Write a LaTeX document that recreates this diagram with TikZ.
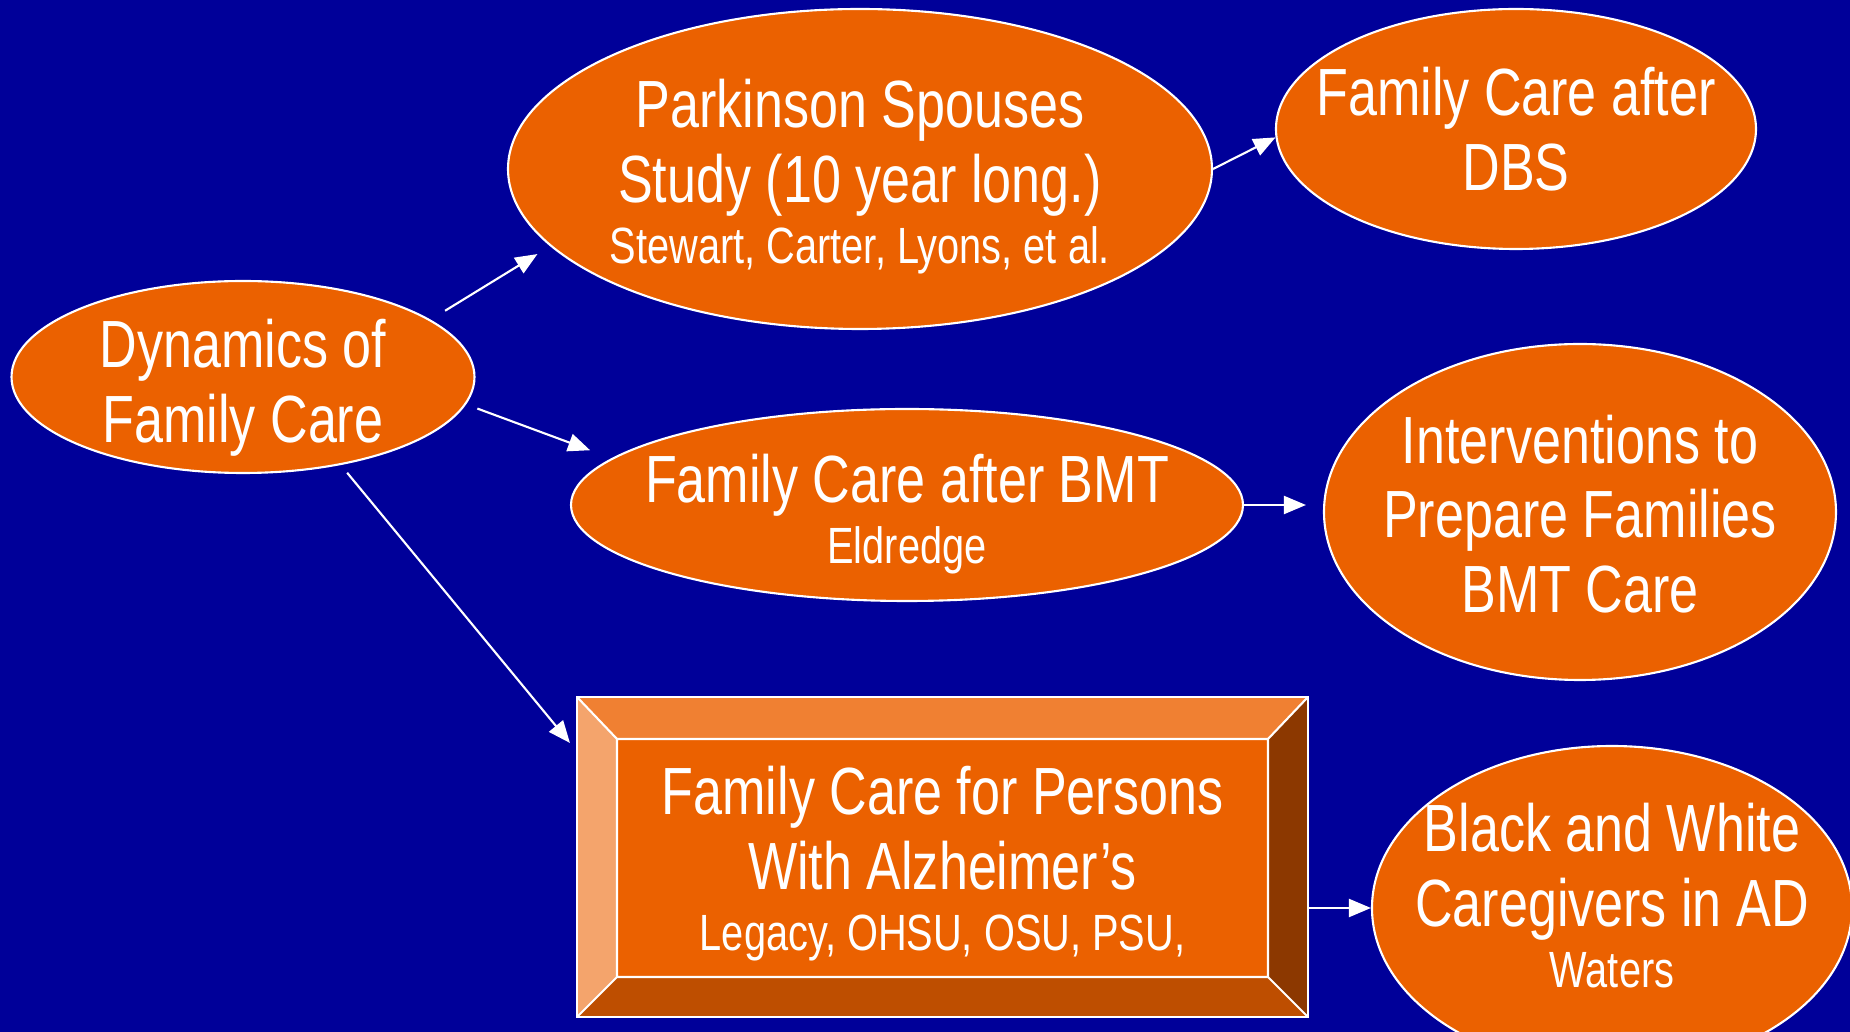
\documentclass[tikz,border=0pt]{standalone}
\usepackage{fontspec}
\setmainfont[FakeStretch=0.78]{Liberation Sans}
\usetikzlibrary{shapes.geometric}
\usetikzlibrary{arrows.meta}
\definecolor{bgblue}{RGB}{0,0,153}
\definecolor{careorange}{RGB}{235,97,0}
\definecolor{bevtop}{RGB}{240,128,50}
\definecolor{bevleft}{RGB}{244,164,108}
\definecolor{bevright}{RGB}{140,56,0}
\definecolor{bevbottom}{RGB}{190,78,0}
\newcommand\namesfont{\fontsize{14.5}{21.3}\selectfont}
\tikzset{
  blob/.style={ellipse,draw=white,line width=0.6pt,fill=careorange,inner sep=0pt},
  blobtext/.style={text=white,align=center,inner sep=0pt,font=\fontsize{19}{21.3}\selectfont},
  link/.style={draw=white,line width=0.6pt,-{Triangle[length=2.2mm,width=1.8mm]}},
  alzbox/.style={rectangle,draw=white,line width=0.6pt,fill=careorange,inner sep=0pt,
    path picture={
      \path (path picture bounding box.north west) coordinate (nw)
            (path picture bounding box.north east) coordinate (ne)
            (path picture bounding box.south east) coordinate (se)
            (path picture bounding box.south west) coordinate (sw)
            ([shift={(4mm,-4.2mm)}]nw) coordinate (inw)
            ([shift={(-4mm,-4.2mm)}]ne) coordinate (ine)
            ([shift={(-4mm,4mm)}]se) coordinate (ise)
            ([shift={(4mm,4mm)}]sw) coordinate (isw);
      \fill[bevtop] (nw) -- (ne) -- (ine) -- (inw) -- cycle;
      \fill[bevright] (ne) -- (se) -- (ise) -- (ine) -- cycle;
      \fill[bevbottom] (se) -- (sw) -- (isw) -- (ise) -- cycle;
      \fill[bevleft] (sw) -- (nw) -- (inw) -- (isw) -- cycle;
      \draw[white,line width=0.6pt] (inw) rectangle (ise)
        (nw) -- (inw) (ne) -- (ine) (se) -- (ise) (sw) -- (isw);
    }},
}

\begin{document}
\begin{tikzpicture}[x=0.1mm,y=0.1mm]
\useasboundingbox (0,0) rectangle (1850,1032);
\fill[bgblue] (0,0) rectangle (1850,1032);
\clip (0,0) rectangle (1850,1032);

\node[blob,minimum width=46.3mm,minimum height=19.2mm] (dyn) at (243,655) {};
\node[blobtext,yshift=-1.1mm] (dyn-txt) at (dyn) {Dynamics of\\ Family Care};
\node[blob,minimum width=70.4mm,minimum height=32mm] (park) at (860,863) {};
\node[blobtext,yshift=-0.8mm] (park-txt) at (park)
  {Parkinson Spouses\\ Study (10 year long.)\\[-3.9pt] \namesfont Stewart, Carter, Lyons, et al.};
\node[blob,minimum width=48mm,minimum height=24mm] (dbs) at (1516,903) {};
\node[blobtext] (dbs-txt) at (dbs) {Family Care after\\ DBS};
\node[blob,minimum width=67.2mm,minimum height=19.2mm] (bmt) at (907,527) {};
\node[blobtext,yshift=-0.9mm] (bmt-txt) at (bmt) {Family Care after BMT\\[-3.9pt] \namesfont Eldredge};
\node[blob,minimum width=51.2mm,minimum height=33.6mm] (interv) at (1580,520) {};
\node[blobtext,yshift=-0.2mm] (interv-txt) at (interv) {Interventions to\\ Prepare Families\\ BMT Care};
\node[alzbox,minimum width=73.1mm,minimum height=32mm] (alz) at (942.5,175) {};
\node[blobtext,yshift=-0.7mm] (alz-txt) at (alz)
  {Family Care for Persons\\ With Alzheimer’s\\[-3.9pt] \namesfont Legacy, OHSU, OSU, PSU,};
\node[blob,minimum width=48mm,minimum height=32.4mm] (bw) at (1612,124) {};
\node[blobtext,yshift=1.2mm] (bw-txt) at (bw) {Black and White\\ Caregivers in AD\\[-3.9pt] \namesfont Waters};

% connectors
\draw[link,shorten <=1.7mm,shorten >=1.5mm] (dyn.17.7) -- (park.194.3);
\draw[link,shorten <=1.2mm,shorten >=2.3mm] (dyn.-7.9) -- (bmt.171.5);
\draw[link,shorten <=1mm] (dyn.-42.4) -- ([shift={(-0.6mm,-4.7mm)}]alz.north west);
\draw[link] (park.east) -- (dbs.182);
\draw[link,shorten >=1.7mm] (bmt.east) -- (bmt.east -| interv.west);
\draw[link] (bw.west -| alz.east) -- (bw.west);

\end{tikzpicture}
\end{document}
